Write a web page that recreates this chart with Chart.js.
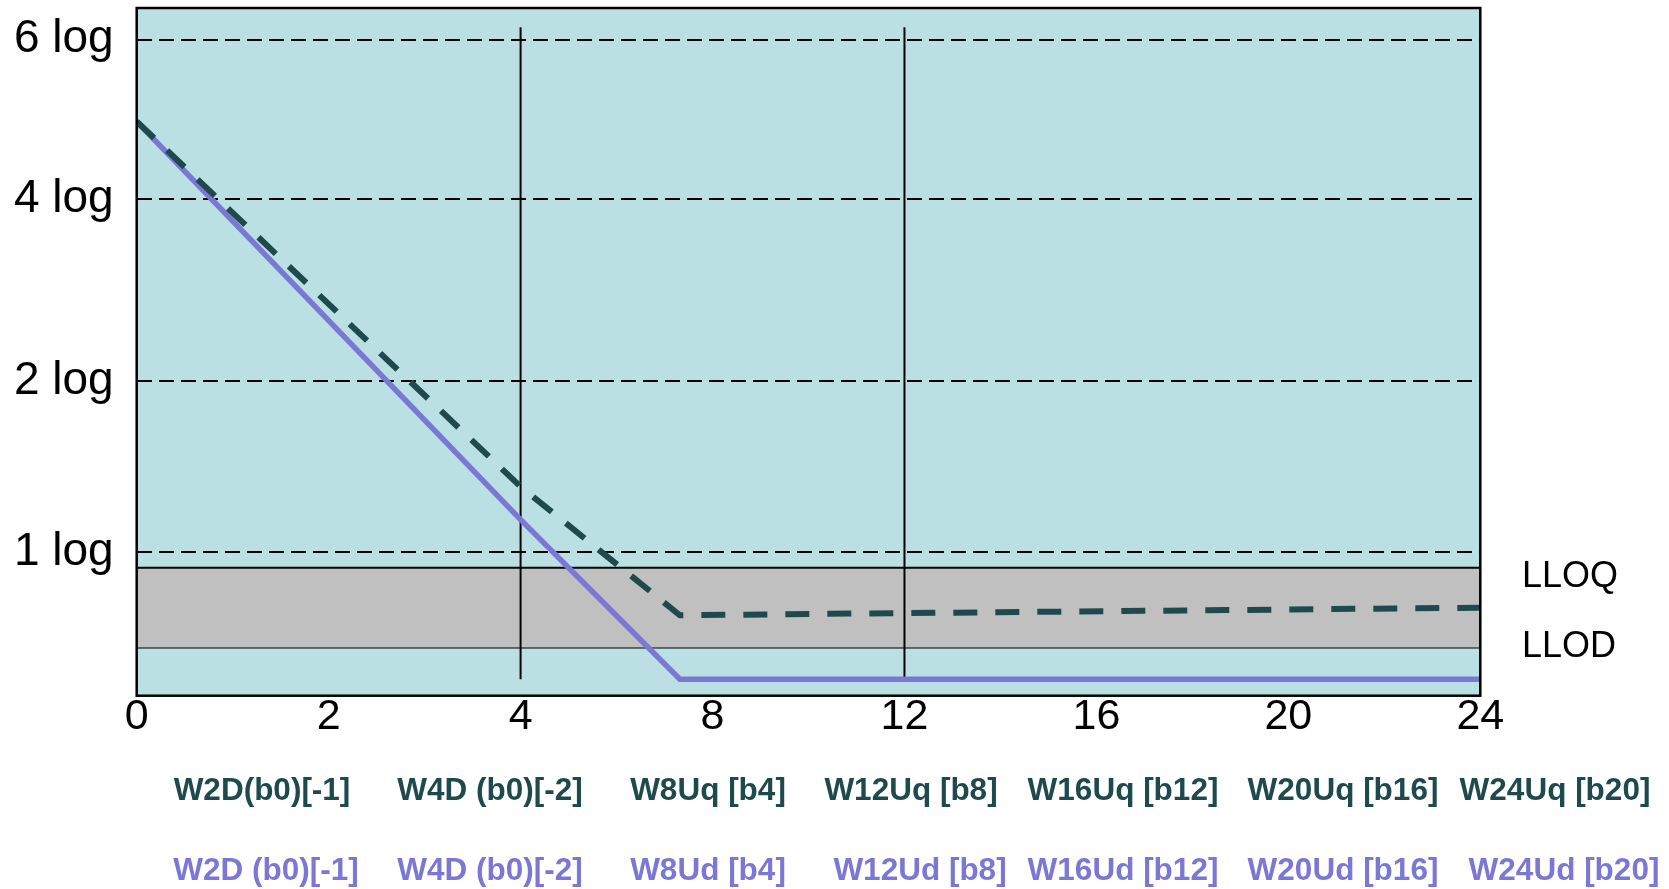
<!DOCTYPE html>
<html>
<head>
<meta charset="UTF-8">
<script src="https://cdn.jsdelivr.net/npm/chart.js"></script>
<style>
  body { margin: 0; background: #fff; }
  #wrap { width: 1669px; height: 889px; }
</style>
</head>
<body>
<div id="wrap"><canvas id="myChart"></canvas></div>
<script>
// eje x: posiciones 0..7, etiquetas en semanas
const xTickPos = [0, 1, 2, 3, 4, 5, 6, 7];
const xTickLabels = ['0', '2', '4', '8', '12', '16', '20', '24'];

// eje y en unidades de posición (0 = abajo, 100 = arriba)
const yTickValues = [20.9, 45.7, 72.2, 95.4];
const yTickLabels = ['1 log', '2 log', '4 log', '6 log'];

// series
const udX = [0, 2, 2.83, 7];
const udY = [83.5, 25.6, 2.4, 2.4];
const uqX = [0, 2, 2.83, 7];
const uqY = [83.5, 30.4, 11.7, 12.8];

// banda LLOD - LLOQ
const bandX = [0, 7];
const llod = 7.0;
const lloq = 18.6;
const sideLabels = ['LLOQ', 'LLOD'];
const sideLabelY = [17.3, 7.0];

// lineas verticales de referencia
const refX = [2, 4];
const refTop = 97.2;
const refBottom = 2.4;

// etiquetas de visitas
const uqLabels = ['W2D(b0)[-1]', 'W4D (b0)[-2]', 'W8Uq [b4]', 'W12Uq [b8]', 'W16Uq [b12]', 'W20Uq [b16]', 'W24Uq [b20]'];
const udLabels = ['W2D (b0)[-1]', 'W4D (b0)[-2]', 'W8Ud [b4]', 'W12Ud [b8]', 'W16Ud [b12]', 'W20Ud [b16]', 'W24Ud [b20]'];

// layout (pixeles)
const uqLabelX = [262, 490, 708, 911, 1123, 1343, 1555];
const udLabelX = [266, 490, 708, 920, 1123, 1343, 1564];
const rowY = [791, 871];
const sideLabelLeft = 1522;

const FONT = '"Liberation Sans", Arial, sans-serif';
const DARK = '#1f4a4d';
const PURPLE = '#7a78d4';

const pts = (xs, ys) => xs.map((x, i) => ({ x: x, y: ys[i] }));

const datasets = [
    { data: pts(bandX, bandX.map(() => llod)), borderColor: '#000', borderWidth: 2, fill: false, order: 10 },
    { data: pts(bandX, bandX.map(() => lloq)), borderColor: '#000', borderWidth: 2, fill: 0, backgroundColor: '#c0c0c0', order: 9 }
];
refX.forEach(x => {
    datasets.push({ data: [{ x: x, y: refTop }, { x: x, y: refBottom }], borderColor: '#000', borderWidth: 2, order: 5 });
});
datasets.push({ data: pts(udX, udY), borderColor: PURPLE, borderWidth: 5.5, order: 2 });
datasets.push({ data: pts(uqX, uqY), borderColor: DARK, borderWidth: 6, borderDash: [24, 18], order: 1 });

const decor = {
    id: 'decor',
    beforeDraw(chart) {
        const { ctx, chartArea: a } = chart;
        ctx.save();
        ctx.fillStyle = '#bae0e3';
        ctx.fillRect(a.left, a.top, a.right - a.left, a.bottom - a.top);
        ctx.restore();
    },
    afterDatasetsDraw(chart) {
        const { ctx, chartArea: a } = chart;
        ctx.save();
        ctx.strokeStyle = '#000';
        ctx.lineWidth = 2.5;
        ctx.strokeRect(a.left, a.top, a.right - a.left, a.bottom - a.top);
        ctx.restore();
    },
    afterDraw(chart) {
        const ctx = chart.ctx;
        const ys = chart.scales.y;
        ctx.save();
        ctx.textBaseline = 'middle';
        ctx.fillStyle = '#000';
        ctx.font = '36px ' + FONT;
        ctx.textAlign = 'left';
        sideLabels.forEach((t, i) => ctx.fillText(t, sideLabelLeft, ys.getPixelForValue(sideLabelY[i])));

        ctx.textAlign = 'center';
        ctx.font = 'bold 31.5px ' + FONT;
        ctx.fillStyle = DARK;
        uqLabels.forEach((t, i) => ctx.fillText(t, uqLabelX[i], rowY[0]));
        ctx.fillStyle = PURPLE;
        udLabels.forEach((t, i) => ctx.fillText(t, udLabelX[i], rowY[1]));
        ctx.restore();
    }
};

new Chart(document.getElementById('myChart'), {
    type: 'line',
    data: { datasets: datasets },
    options: {
        responsive: true,
        maintainAspectRatio: false,
        animation: false,
        layout: { padding: { top: 8, right: 188.7, left: 0, bottom: 0 } },
        elements: { point: { radius: 0 }, line: { tension: 0 } },
        plugins: { legend: { display: false }, tooltip: { enabled: false } },
        scales: {
            x: {
                type: 'linear',
                min: 0,
                max: 7,
                afterBuildTicks: s => { s.ticks = xTickPos.map(v => ({ value: v })); },
                afterFit: s => { s.height = 193.3; s.paddingLeft = 0; s.paddingRight = 0; },
                grid: { display: false, drawTicks: false, tickLength: 0 },
                border: { display: false },
                ticks: {
                    autoSkip: false,
                    maxRotation: 0,
                    padding: 0,
                    color: '#000',
                    font: { family: FONT, size: 43, lineHeight: 1 },
                    callback: (v, i) => xTickLabels[i]
                }
            },
            y: {
                type: 'linear',
                min: 0,
                max: 100,
                afterBuildTicks: s => { s.ticks = yTickValues.map(v => ({ value: v })); },
                afterFit: s => { s.width = 136.7; s.paddingTop = 0; s.paddingBottom = 0; },
                grid: { color: '#000', lineWidth: 2, drawTicks: false, tickLength: 0 },
                border: { display: false, dash: [15, 7] },
                ticks: {
                    padding: 23,
                    color: '#000',
                    font: { family: FONT, size: 46 },
                    callback: (v, i) => yTickLabels[i]
                }
            }
        }
    },
    plugins: [decor]
});
</script>
</body>
</html>
